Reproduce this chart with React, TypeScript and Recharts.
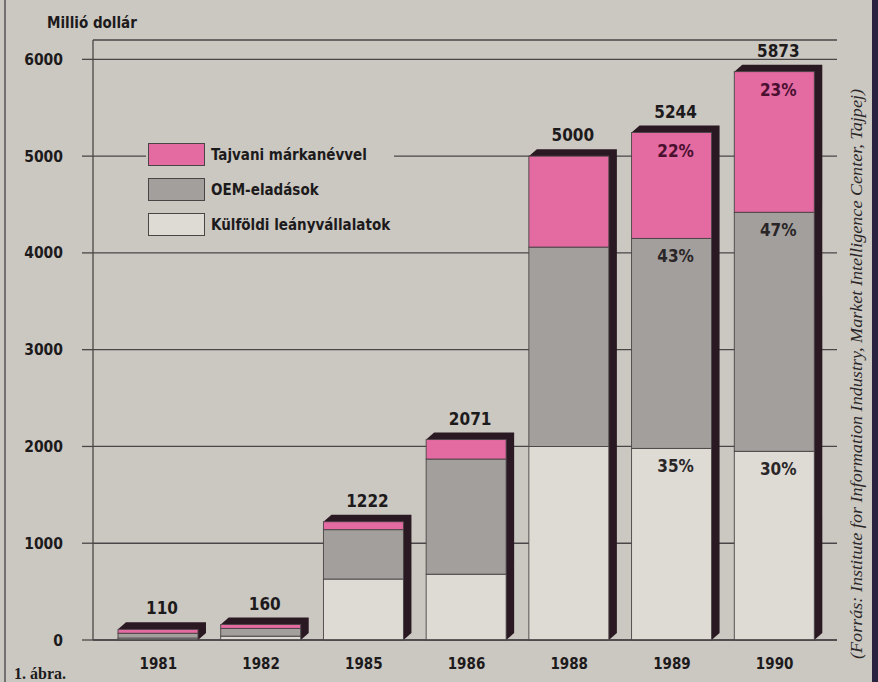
import React from 'react';
import { BarChart, Bar, XAxis, YAxis, CartesianGrid, LabelList } from 'recharts';

const years = ['1981', '1982', '1985', '1986', '1988', '1989', '1990'];
const foreign = [20, 40, 630, 680, 2000, 1980, 1950];
const oem = [50, 80, 510, 1190, 2060, 2170, 2470];
const brand = [40, 40, 82, 201, 940, 1094, 1453];
const totals = [110, 160, 1222, 2071, 5000, 5244, 5873];
const pctForeign = ['', '', '', '', '', '35%', '30%'];
const pctOem = ['', '', '', '', '', '43%', '47%'];
const pctBrand = ['', '', '', '', '', '22%', '23%'];
const yTicks = [0, 1000, 2000, 3000, 4000, 5000, 6000];

const seriesNames = ['Tajvani márkanévvel', 'OEM-eladások', 'Külföldi leányvállalatok'];
const seriesColors = ['#e46aa2', '#a39f9d', '#dedbd5'];

const BG = '#cbc8c1';
const SHADOW = '#2a1822';
const FONT = "'DejaVu Sans Condensed', 'Liberation Sans Narrow', Arial, sans-serif";

const rows = years.map((year, i) => ({
  year,
  foreign: foreign[i],
  oem: oem[i],
  brand: brand[i],
  total: totals[i],
  pF: pctForeign[i],
  pO: pctOem[i],
  pB: pctBrand[i],
}));

const DX = 8;
const DY = 7;

const make3D = (fill: string) => (props: any) => {
  const { x, y, width, height } = props;
  if (!height || height <= 0) return <g />;
  const pts = `${x},${y} ${x + DX},${y - DY} ${x + width + DX},${y - DY} ${x + width + DX},${y + height - DY} ${x + width},${y + height}`;
  return (
    <g>
      <polygon points={pts} fill={SHADOW} />
      <rect x={x} y={y} width={width} height={height} fill={fill} stroke="#4a4446" strokeWidth={0.9} />
    </g>
  );
};

const totalLabel = (props: any) => {
  const { x, y, width, value } = props;
  return (
    <text x={x + width / 2 + 4} y={y - 15} textAnchor="middle" fontFamily={FONT} fontWeight="bold" fontSize={17} fill="#1d1a1c">
      {value}
    </text>
  );
};

const pctLabel = (color: string) => (props: any) => {
  const { x, y, width, value } = props;
  if (!value) return <g />;
  return (
    <text x={x + width / 2 + 4} y={y + 24} textAnchor="middle" fontFamily={FONT} fontWeight="bold" fontSize={17} fill={color}>
      {value}
    </text>
  );
};

export default function App() {
  return (
    <div style={{ position: 'absolute', left: 0, top: 0, width: 878, height: 682, background: BG, overflow: 'hidden' }}>
      <BarChart width={878} height={682} data={rows} margin={{ top: 40, right: 41, bottom: 0, left: 0 }} barSize={80}>
        <CartesianGrid vertical={false} stroke="#4a4648" strokeWidth={1.3} />
        <XAxis
          dataKey="year"
          height={42}
          padding={{ left: 14, right: 11 }}
          tickLine={false}
          tickSize={8}
          tickMargin={10}
          axisLine={{ stroke: '#4a4648', strokeWidth: 1.3 }}
          tick={{ fontFamily: FONT, fontWeight: 'bold', fontSize: 15, fill: '#1d1a1c' }}
        />
        <YAxis
          width={93}
          domain={[0, 6200]}
          ticks={yTicks}
          tickSize={11}
          tickMargin={19}
          tickLine={{ stroke: '#4a4648', strokeWidth: 1.3 }}
          axisLine={{ stroke: '#4a4648', strokeWidth: 1.3 }}
          tick={{ fontFamily: FONT, fontWeight: 'bold', fontSize: 15.5, fill: '#1d1a1c' }}
        />
        <Bar dataKey="foreign" stackId="a" fill={seriesColors[2]} shape={make3D(seriesColors[2])} isAnimationActive={false}>
          <LabelList dataKey="pF" content={pctLabel('#2a2628')} />
        </Bar>
        <Bar dataKey="oem" stackId="a" fill={seriesColors[1]} shape={make3D(seriesColors[1])} isAnimationActive={false}>
          <LabelList dataKey="pO" content={pctLabel('#2a2628')} />
        </Bar>
        <Bar dataKey="brand" stackId="a" fill={seriesColors[0]} shape={make3D(seriesColors[0])} isAnimationActive={false}>
          <LabelList dataKey="pB" content={pctLabel('#4a1030')} />
          <LabelList dataKey="total" content={totalLabel} />
        </Bar>
      </BarChart>

      <svg width={878} height={682} style={{ position: 'absolute', left: 0, top: 0, pointerEvents: 'none' }}>
        <line x1={5} y1={0} x2={5} y2={682} stroke="#555" strokeWidth={1.5} />
        <rect x={872} y={0} width={6} height={682} fill="#2a2340" />
        <text x={47} y={28} fontFamily={FONT} fontWeight="bold" fontSize={15} fill="#1d1a1c">Millió dollár</text>
        <text x={14} y={679} fontFamily="'Liberation Serif', serif" fontWeight="bold" fontSize={16} fill="#1d1a1c">1. ábra.</text>
        <text
          x={0}
          y={0}
          transform="translate(862,374) rotate(-90)"
          textAnchor="middle"
          fontFamily="'Liberation Serif', serif"
          fontStyle="italic"
          fontSize={16}
          fill="#2a2628"
          textLength={570}
          lengthAdjust="spacingAndGlyphs"
        >
          (Forrás: Institute for Information Industry, Market Intelligence Center, Tajpej)
        </text>
      </svg>

      <div style={{ position: 'absolute', left: 146, top: 135, background: BG, padding: '2px 4px 2px 2px' }}>
        {seriesNames.map((name, i) => (
          <div key={name} style={{ display: 'flex', alignItems: 'center', height: 35 }}>
            <div style={{ width: 57, height: 23, background: seriesColors[i], border: '1.5px solid #4a4446', boxSizing: 'border-box' }} />
            <span style={{ marginLeft: 6, fontFamily: FONT, fontWeight: 'bold', fontSize: 15, color: '#1d1a1c' }}>{name}</span>
          </div>
        ))}
      </div>
    </div>
  );
}
